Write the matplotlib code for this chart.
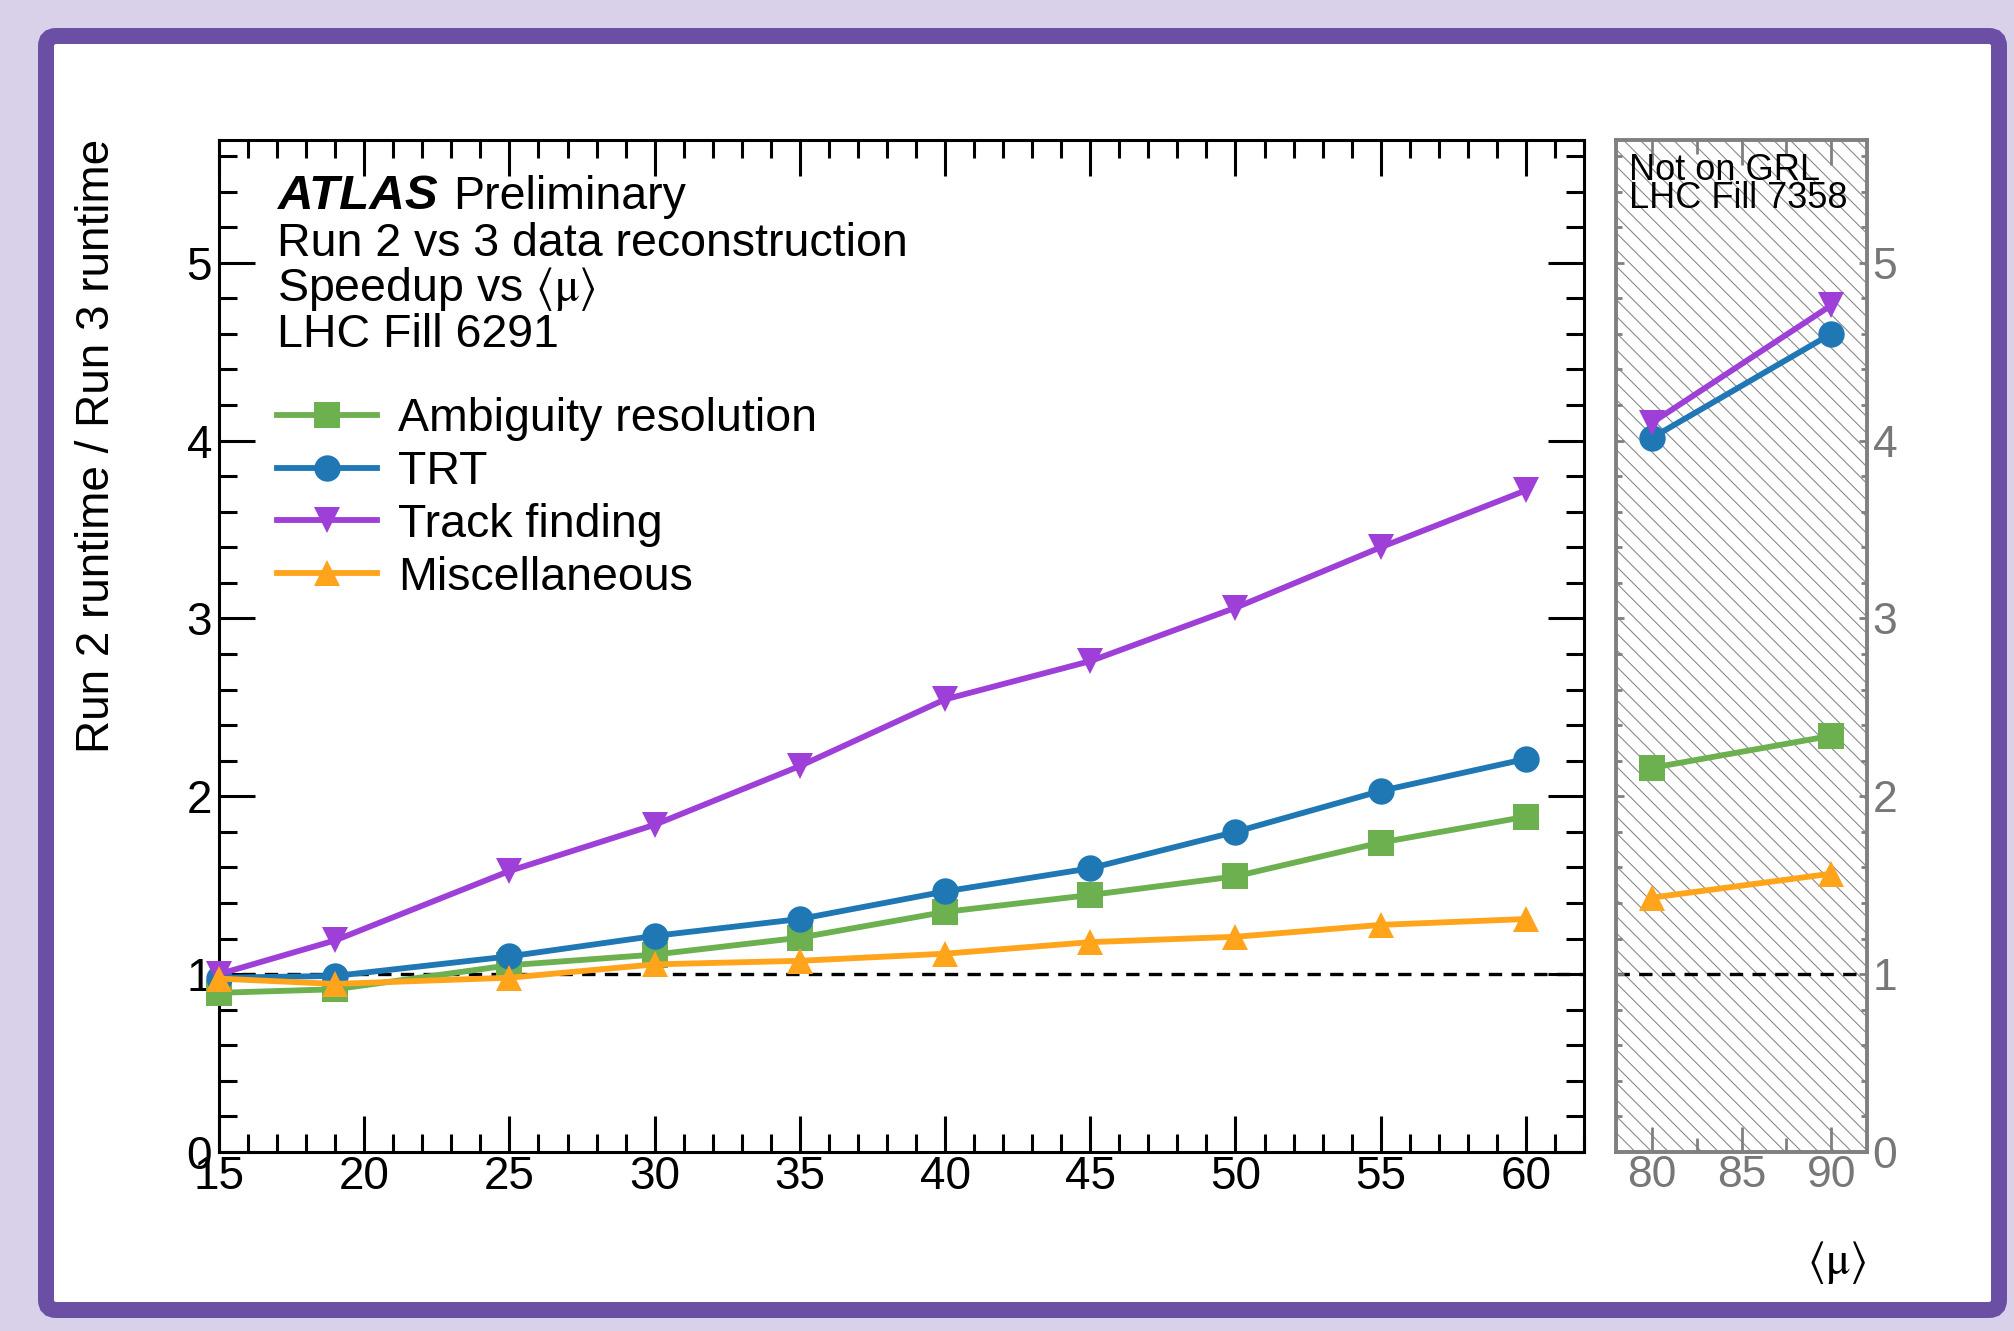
import matplotlib
matplotlib.use("Agg")
import matplotlib.pyplot as plt
from matplotlib.patches import FancyBboxPatch, Rectangle
from matplotlib.lines import Line2D
from matplotlib.ticker import MultipleLocator

plt.rcParams['font.family'] = ['Liberation Sans', 'DejaVu Sans']
plt.rcParams['mathtext.fontset'] = 'stix'
plt.rcParams['hatch.color'] = '#8a8a8a'
plt.rcParams['hatch.linewidth'] = 0.8

# <mu> values, LHC fill 6291 (main panel) and fill 7358 (side panel)
mu_main = [15, 19, 25, 30, 35, 40, 45, 50, 55, 60]
mu_extra = [80, 90]

ambiguity = [0.895, 0.915, 1.05, 1.11, 1.205, 1.35, 1.445, 1.55, 1.74, 1.885]
trt = [0.98, 0.99, 1.10, 1.215, 1.31, 1.465, 1.595, 1.80, 2.03, 2.21]
track_finding = [1.0, 1.19, 1.58, 1.84, 2.17, 2.545, 2.76, 3.06, 3.40, 3.72]
misc = [0.975, 0.945, 0.98, 1.055, 1.075, 1.115, 1.18, 1.21, 1.277, 1.31]

ambiguity_extra = [2.16, 2.34]
trt_extra = [4.015, 4.60]
track_finding_extra = [4.10, 4.76]
misc_extra = [1.43, 1.565]

labels = ["Ambiguity resolution", "TRT", "Track finding", "Miscellaneous"]
colors = ["#6cb04f", "#1f77b4", "#9e3fd8", "#ffa41b"]
markers = ["s", "o", "v", "^"]

W, H = 2014, 1331
MS, LW = 19, 4.2


def px(x, y):
    # pixel position (from top-left) -> figure fraction
    return x / W, 1 - y / H


fig = plt.figure(figsize=(W / 100, H / 100), dpi=100)
fig.patch.set_facecolor("#d9d1e9")

# purple rounded frame with white inside
frame = FancyBboxPatch((46 / 100, (H - 1310) / 100), 1953 / 100, 1274 / 100,
                       boxstyle="round,pad=0,rounding_size=0.1",
                       transform=fig.dpi_scale_trans, facecolor="white",
                       edgecolor="#6a4fa5", linewidth=11.5, zorder=-10)
fig.patches.append(frame)

ax = fig.add_axes([219 / W, 1 - 1152 / H, (1584 - 219) / W, (1152 - 140) / H])
ax2 = fig.add_axes([1616 / W, 1 - 1152 / H, (1867 - 1616) / W, (1152 - 140) / H])
ax.patch.set_alpha(0)
ax2.patch.set_alpha(0)

series = [ambiguity, trt, track_finding, misc]
series_extra = [ambiguity_extra, trt_extra, track_finding_extra, misc_extra]

for a in (ax, ax2):
    a.axhline(1, color="black", lw=2.4, dashes=(4, 2.8), zorder=1)

for vals, vals_x, c, m in zip(series, series_extra, colors, markers):
    ax.plot(mu_main, vals, color=c, marker=m, ms=MS, mew=0, lw=LW,
            clip_on=False, zorder=3)
    ax2.plot(mu_extra, vals_x, color=c, marker=m, ms=MS, mew=0, lw=LW,
             clip_on=False, zorder=3)

# main panel axes
ax.set_xlim(15, 62)
ax.set_ylim(0, 5.69)
ax.xaxis.set_major_locator(MultipleLocator(5))
ax.xaxis.set_minor_locator(MultipleLocator(1))
ax.yaxis.set_major_locator(MultipleLocator(1))
ax.yaxis.set_minor_locator(MultipleLocator(0.2))
ax.tick_params(which="both", direction="in", top=True, right=True,
               width=2.2, color="black", labelsize=33)
ax.tick_params(which="major", length=26)
ax.tick_params(which="minor", length=13)
ax.tick_params(axis="x", pad=2)
ax.tick_params(axis="y", pad=5)
for s in ax.spines.values():
    s.set_linewidth(2.2)

# side panel axes (not on GRL)
grey = "#808080"
ax2.add_patch(Rectangle((0, 0), 1, 1, transform=ax2.transAxes, facecolor="none",
                        edgecolor="#8a8a8a", hatch="\\\\", lw=0, zorder=0))
ax2.set_xlim(78, 92)
ax2.set_ylim(0, 5.69)
ax2.xaxis.set_major_locator(MultipleLocator(5))
ax2.xaxis.set_minor_locator(MultipleLocator(2.5))
ax2.yaxis.set_major_locator(MultipleLocator(1))
ax2.yaxis.set_minor_locator(MultipleLocator(0.2))
ax2.tick_params(which="both", direction="in", top=True, right=True, left=True,
                labelleft=False, labelright=True, width=2, color=grey,
                labelcolor="#777777", labelsize=32)
ax2.tick_params(axis="x", which="major", length=18, pad=2)
ax2.tick_params(axis="x", which="minor", length=10)
ax2.tick_params(axis="y", which="major", length=6, pad=4)
ax2.tick_params(axis="y", which="minor", length=4)
for s in ax2.spines.values():
    s.set_linewidth(2.8)
    s.set_color(grey)

# header texts
ax_font = 33.5
fig.text(*px(277, 209), "ATLAS", fontsize=35.5, fontweight="bold",
         fontstyle="italic", va="baseline")
fig.text(*px(453, 209), "Preliminary", fontsize=ax_font, va="baseline")
fig.text(*px(277, 256), "Run 2 vs 3 data reconstruction", fontsize=ax_font,
         va="baseline")
fig.text(*px(277, 301), r"Speedup vs $\langle\mathrm{\mu}\rangle$", fontsize=ax_font,
         va="baseline")
fig.text(*px(277, 347), "LHC Fill 6291", fontsize=ax_font, va="baseline")

fig.text(*px(1629, 180), "Not on GRL", fontsize=26, va="baseline")
fig.text(*px(1629, 208), "LHC Fill 7358", fontsize=26, va="baseline")

# axis titles
fig.text(*px(97, 139), "Run 2 runtime / Run 3 runtime", fontsize=33,
         rotation=90, ha="center", va="top")
fig.text(*px(1866, 1262), r"$\langle\mathrm{\mu}\rangle$", fontsize=33,
         ha="right", va="center")

# legend
handles = [Line2D([], [], color=c, marker=m, ms=MS, mew=0, lw=LW)
           for c, m in zip(colors, markers)]
ax.legend(handles, labels, loc="upper left", bbox_to_anchor=px(277, 397),
          bbox_transform=fig.transFigure, frameon=False, fontsize=ax_font,
          handlelength=2.15, handletextpad=0.45, labelspacing=0.19,
          borderpad=0, borderaxespad=0, numpoints=1)

fig.savefig("out.png", dpi=100, facecolor=fig.get_facecolor())
